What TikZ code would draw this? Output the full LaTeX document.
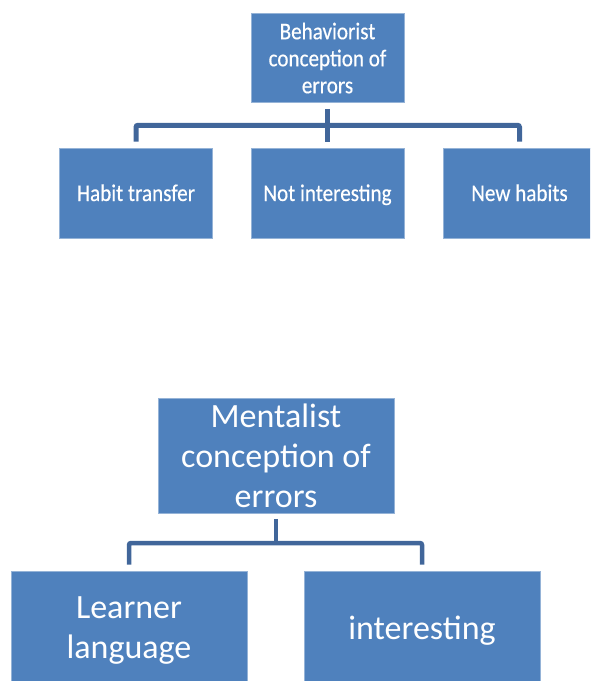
\documentclass[tikz,border=0pt]{standalone}
\usepackage{fontspec}
\setmainfont{Carlito}
\newfontfamily\condfont[FakeStretch=0.88,FakeBold=0.4]{Carlito}
\usetikzlibrary{calc}
\definecolor{boxblue}{HTML}{4F81BD}
\definecolor{connblue}{HTML}{41669A}
\begin{document}
\begin{tikzpicture}[x=1pt,y=-1pt,
  box/.style={rectangle, fill=boxblue, draw=boxblue!60!white, line width=0.8pt, text=white, align=center, inner sep=0pt},
  small/.style={box, minimum width=153pt, minimum height=89pt, font=\condfont\fontsize{24}{27}\selectfont},
  leaf/.style={small, minimum height=90pt, text height=17pt, text depth=1pt},
  big/.style={box, minimum width=236pt, minimum height=115pt, font=\fontsize{34}{40}\selectfont},
  conn/.style={draw=connblue, line width=5pt, rounded corners=2pt},
  conn2/.style={draw=connblue, line width=4.5pt, rounded corners=2pt}]
\useasboundingbox (0,0) rectangle (590,681);
\clip (0,0) rectangle (590,681);
% top tree
\node[small] (beh) at (327.5,58) {Behaviorist\\conception of\\errors};
\node[leaf] (hab) at (136,193) {Habit transfer};
\node[leaf] (not) at (327.5,193) {Not interesting};
\node[leaf] (new) at (519.5,193) {New habits};
\coordinate (tb) at ($(beh.south)!0.5!(not.north)$);
\draw[conn] ($(hab.north)+(0,-6)$) |- (tb) -| ($(new.north)+(0,-6)$);
\draw[conn] ($(beh.south)+(0,6)$) -- ($(not.north)+(0,-6)$);
% bottom tree
\node[big] (men) at (276,456) {Mentalist\\conception of\\errors};
\node[big, minimum height=120pt] (lea) at (129,631) {Learner\\language};
\node[big, minimum height=120pt] (int) at (422,631) {\strut interesting};
\coordinate (bb) at (276,543);
\draw[conn2] ($(lea.north)+(0,-6)$) |- (bb) -| ($(int.north)+(0,-6)$);
\draw[conn2] ($(men.south)+(0,5)$) -- (men.south |- bb);
\end{tikzpicture}
\end{document}
